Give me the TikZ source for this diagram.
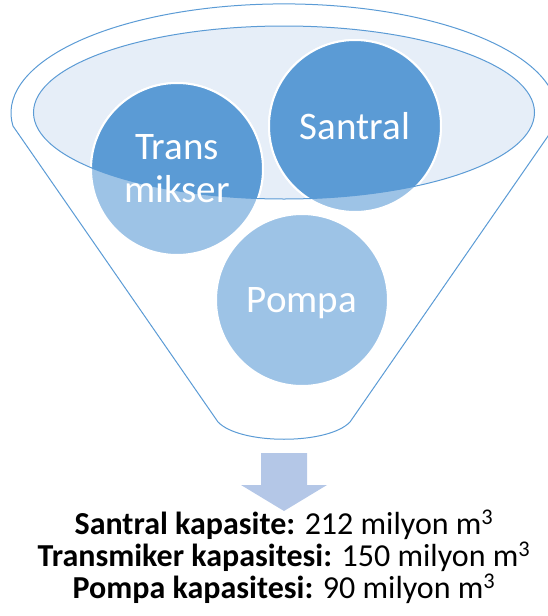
\documentclass[tikz,border=0pt]{standalone}
\usepackage{fontspec}
\setmainfont{Carlito}
\definecolor{accent}{HTML}{5B9BD5}
\definecolor{lightc}{HTML}{9DC3E6}
\definecolor{ellfill}{HTML}{E6EEF8}
\definecolor{arrowc}{HTML}{B4C7E7}
\begin{document}
\begin{tikzpicture}[x=1pt,y=-1pt,
  bubble/.style={circle, minimum size=172pt, inner sep=0pt, fill=lightc, draw=white, line width=2pt},
  lbl/.style={text=white, font=\fontsize{39}{44}\selectfont, anchor=base, inner sep=0pt},
  capline/.style={font=\fontsize{32}{33}\selectfont, anchor=base, inner sep=0pt},
  outline/.style={draw=accent, line width=1pt}]
\path[use as bounding box] (0,0) rectangle (548,616);
\clip (0,0) rectangle (548,616);
% outer funnel
\draw[outline] (350,422) -- (555,126)
  arc[start angle=6.9, end angle=-186.9, x radius=273, y radius=109]
  -- (218,422) .. controls (240,445) and (328,445) .. (350,422) -- cycle;
% top ellipse fill
\fill[ellfill] (284,112.5) ellipse[x radius=250.5, y radius=86.5];
% circles (light)
\node[bubble] (cs) at (355,126) {};
\node[bubble] (ct) at (177,169) {};
\node[bubble] (cp) at (302,300) {};
% darker parts inside the ellipse
\begin{scope}
  \clip (284,112.5) ellipse[x radius=250.5, y radius=86.5];
  \fill[accent] (cs.center) circle[radius=86];
  \fill[accent] (ct.center) circle[radius=86];
  \draw[white, line width=2pt] (cs.center) circle[radius=86];
  \draw[white, line width=2pt] (ct.center) circle[radius=86];
\end{scope}
\draw[outline] (284,112.5) ellipse[x radius=250.5, y radius=86.5];
% labels
\node[lbl] (ts) at (355,139) {Santral};
\node[lbl] (tt1) at (177,159) {Trans};
\node[lbl] (tt2) at (177,202) {mikser};
\node[lbl] (tp) at (302,312) {Pompa};
% down arrow
\fill[arrowc] (261,453) -- (307,453) -- (307,485) -- (327,485) -- (284,511)
  -- (241,485) -- (261,485) -- cycle;
% capacities
\node[capline] (l1) at (284,534) {\textbf{Santral kapasite:} 212 milyon m\textsuperscript{3}};
\node[capline] (l2) at (284,566) {\textbf{Transmiker kapasitesi:} 150 milyon m\textsuperscript{3}};
\node[capline] (l3) at (284,598) {\textbf{Pompa kapasitesi:} 90 milyon m\textsuperscript{3}};
\end{tikzpicture}
\end{document}
